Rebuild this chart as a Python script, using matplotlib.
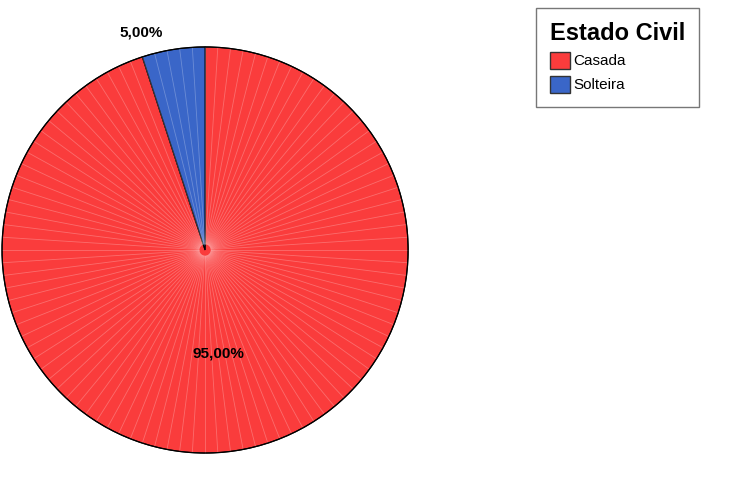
import matplotlib
matplotlib.use("Agg")
import matplotlib.pyplot as plt
import numpy as np
from matplotlib.patches import Patch

plt.rcParams['font.family'] = ['Liberation Sans', 'DejaVu Sans']

# estado civil
categories = ["Casada", "Solteira"]
values = [95.0, 5.0]
labels = ["95,00%", "5,00%"]
colors = ["#FA3C3C", "#3A66C8"]

fig = plt.figure(figsize=(7.35, 4.78), dpi=100)
ax = fig.add_axes([0.0, 0.048, 0.558, 0.858])

wedges, _ = ax.pie(values, colors=colors, startangle=90, counterclock=False,
                   radius=1.0, wedgeprops=dict(edgecolor="black", linewidth=0.8))

# faint radial lines (render artifact look)
for a in np.arange(0, 360, 3.6):
    t = np.deg2rad(a)
    ax.plot([0.03 * np.cos(t), np.cos(t)], [0.03 * np.sin(t), np.sin(t)],
            color="white", alpha=0.25, lw=0.6, zorder=3)
ax.add_patch(plt.Circle((0, 0), 1.0, fill=False, edgecolor="black", lw=0.9, zorder=4))

ax.text(0.068, -0.512, labels[0], ha="center", va="center", fontsize=11, fontweight="bold")
ax.text(-0.317, 1.073, labels[1], ha="center", va="center", fontsize=11, fontweight="bold")

ax.set_xlim(-1.01, 1.01)
ax.set_ylim(-1.01, 1.01)
ax.set_aspect("equal")
ax.axis("off")

handles = [Patch(facecolor=c, edgecolor="#333333", label=l) for c, l in zip(colors, categories)]
leg = fig.legend(handles=handles, title="Estado Civil", loc="upper left",
                 bbox_to_anchor=(536/735, 1 - 8/478), borderaxespad=0, frameon=True,
                 fancybox=False, edgecolor="#555555", fontsize=11, handlelength=1.35,
                 handleheight=1.35, handletextpad=0.2, labelspacing=0.45, borderpad=0.9,
                 title_fontproperties={"size": 17, "weight": "bold"}, alignment="left")
leg.get_frame().set_linewidth(1.0)

plt.savefig("out.png", dpi=100)
